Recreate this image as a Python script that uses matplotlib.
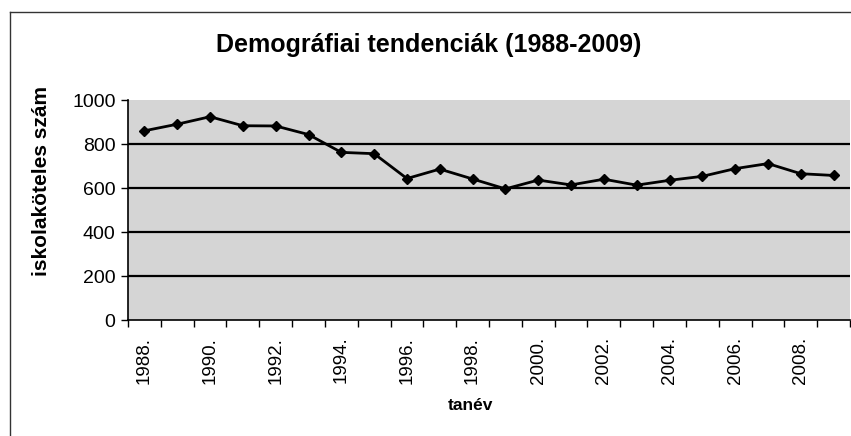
import numpy as np
import matplotlib.pyplot as plt
from matplotlib.lines import Line2D

plt.rcParams['font.family'] = ['Liberation Sans', 'DejaVu Sans']

# Data
years = [1988, 1989, 1990, 1991, 1992, 1993, 1994, 1995, 1996, 1997, 1998,
         1999, 2000, 2001, 2002, 2003, 2004, 2005, 2006, 2007, 2008, 2009]
pupils = [860, 890, 924, 883, 882, 843, 762, 756, 643, 686, 641,
          596, 636, 614, 640, 613, 635, 653, 688, 711, 665, 657]
y_ticks = [0, 200, 400, 600, 800, 1000]
label_years = years[::2]

W, H = 851, 436
fig = plt.figure(figsize=(W / 100, H / 100), dpi=100)
fig.patch.set_facecolor('white')

# plot area in pixel coords -> figure fractions
left, right, top, bottom = 128, 850, 100, 320
ax = fig.add_axes([left / W, 1 - bottom / H, (right - left) / W, (bottom - top) / H])
ax.set_facecolor('#d5d5d5')

x = np.arange(len(years))
ax.plot(x, pupils, color='black', lw=2, marker='D', markersize=5, zorder=3)

ax.set_xlim(-0.5, len(years) - 0.5)
ax.set_ylim(0, 1000)

# gridlines
for v in y_ticks[1:-1]:
    ax.axhline(v, color='black', lw=1.6, zorder=2)

ax.set_yticks(y_ticks)
ax.set_yticklabels([str(v) for v in y_ticks], fontsize=14)
ax.tick_params(axis='y', direction='out', length=5, width=1, pad=4)

# ticks between categories, labels at centres of every other year
ax.set_xticks(np.arange(-0.5, len(years), 1.0))
ax.set_xticklabels([])
ax.tick_params(axis='x', which='major', direction='out', length=5, width=1)
ax.set_xticks([years.index(y) for y in label_years], minor=True)
ax.set_xticklabels([f"{y}." for y in label_years], minor=True, rotation=90, fontsize=13.5)
ax.tick_params(axis='x', which='minor', length=0, pad=12)

for s in ['top', 'right']:
    ax.spines[s].set_visible(False)
ax.spines['left'].set_linewidth(1.2)
ax.spines['bottom'].set_linewidth(1.2)

fig.text(429 / W, 1 - 45 / H, 'Demográfiai tendenciák (1988-2009)',
         ha='center', va='center', fontsize=18, fontweight='bold')
fig.text(42 / W, 1 - 181 / H, 'iskolaköteles szám', rotation=90,
         ha='center', va='center', fontsize=15, fontweight='bold')
fig.text(470 / W, 1 - 405 / H, 'tanév', ha='center', va='center',
         fontsize=12.5, fontweight='bold')

# outer chart frame (only left and top edges visible in the scan)
fig.add_artist(Line2D([10 / W, 10 / W], [0, 1 - 12 / H], color='#333333', lw=1))
fig.add_artist(Line2D([10 / W, 1], [1 - 12 / H, 1 - 12 / H], color='#333333', lw=1))

fig.savefig('out.png', dpi=100)
